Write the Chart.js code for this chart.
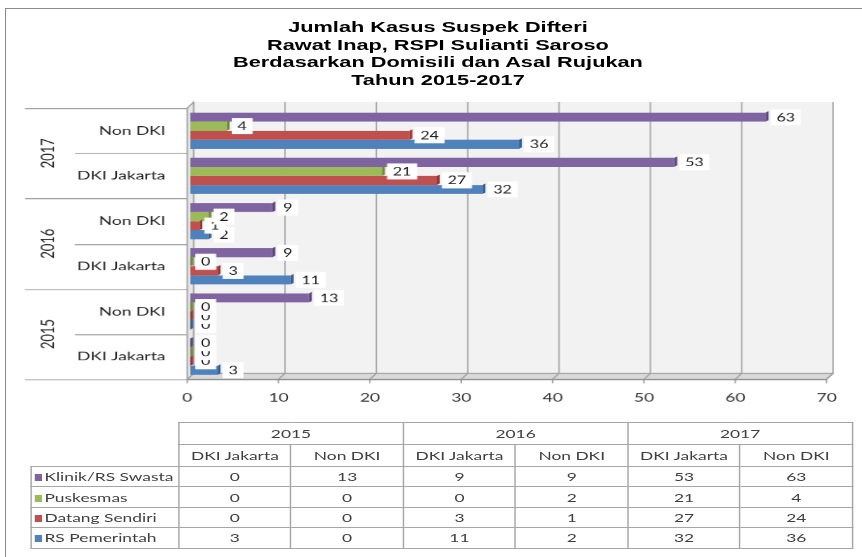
<!DOCTYPE html>
<html>
<head>
<meta charset="utf-8">
<script src="https://cdn.jsdelivr.net/npm/chart.js@4.4.1/dist/chart.umd.min.js"></script>
<style>
html,body{margin:0;padding:0;background:#fff;width:862px;height:557px;overflow:hidden;}
#frame{position:absolute;left:5px;top:8px;width:900px;height:600px;border:1px solid #8c8c8c;box-sizing:border-box;}
#wrap{position:absolute;left:0;top:0;width:595px;height:557px;transform:scaleX(1.448739);transform-origin:0 0;}
#title{position:absolute;left:0;top:18px;width:604.6px;text-align:center;font:bold 15px "Liberation Sans",Arial,sans-serif;line-height:17.6px;color:#000;}
#chart{position:absolute;left:0;top:0;}
#tbl{position:absolute;left:20.7px;top:422px;border-collapse:collapse;table-layout:fixed;font:12px Lato,sans-serif;color:#404040;}
#tbl td{border:1px solid #a6a6a6;text-align:center;padding:0;white-space:nowrap;overflow:hidden;}
#tbl td.corner{border:none;}
#tbl td.lab{text-align:left;padding-left:2px;}
#tbl .key{display:inline-block;width:5px;height:7px;margin-right:2px;vertical-align:0px;}
</style>
</head>
<body>
<div id="frame"></div>
<div id="wrap">
  <div id="title">Jumlah Kasus Suspek Difteri<br>Rawat Inap, RSPI Sulianti Saroso<br>Berdasarkan Domisili dan Asal Rujukan<br>Tahun 2015-2017</div>
  <canvas id="chart" width="595" height="415"></canvas>
  <table id="tbl"></table>
</div>
<script>
// ---- data ----
const years = ['2015', '2016', '2017'];
const regions = ['DKI Jakarta', 'Non DKI'];
// order: 2015 DKI, 2015 Non DKI, 2016 DKI, 2016 Non DKI, 2017 DKI, 2017 Non DKI
const klinikSwasta  = [0, 13, 9, 9, 53, 63];
const puskesmas     = [0, 0, 0, 2, 21, 4];
const datangSendiri = [0, 0, 3, 1, 27, 24];
const rsPemerintah  = [3, 0, 11, 2, 32, 36];
const seriesNames = ['Klinik/RS Swasta', 'Puskesmas', 'Datang Sendiri', 'RS Pemerintah'];
const xMin = 0, xMax = 70, xStep = 10;

// ---- styles ----
const seriesColors = ['#8064A2', '#9BBB59', '#C0504D', '#4F81BD'];
const capColors    = ['#5C4776', '#71893F', '#8E3A38', '#395E8B'];
const seriesValues = [klinikSwasta, puskesmas, datangSendiri, rsPemerintah];

const cats = [];
years.forEach(y => regions.forEach(r => cats.push({ year: y, region: r })));
const disp = cats.map((c, i) => i).reverse(); // top-down display order

const datasets = seriesNames.map((name, s) => ({
  label: name,
  data: disp.map(i => seriesValues[s][i]),
  backgroundColor: seriesColors[s],
  borderWidth: 0,
  categoryPercentage: 0.8,
  barPercentage: 1.0
}));

const OFF = -2.1, DX = 4.5, DY = 6;

const decor = {
  id: 'decor',
  beforeDatasetsDraw(chart) {
    const ctx = chart.ctx, xs = chart.scales.x, ca = chart.chartArea;
    const xf = v => xs.getPixelForValue(v) + OFF, xb = v => xf(v) + DX;
    const top = ca.top, bot = ca.bottom;
    const ticks = xs.ticks.map(t => t.value);
    ctx.save();
    // back wall
    ctx.fillStyle = '#f2f2f2';
    ctx.fillRect(xb(xMin), top - DY, xb(xMax) - xb(xMin), bot - top);
    ctx.strokeStyle = '#a6a6a6'; ctx.lineWidth = 1;
    ticks.forEach(v => {
      ctx.beginPath(); ctx.moveTo(xb(v), top - DY); ctx.lineTo(xb(v), bot - DY); ctx.stroke();
    });
    // floor
    ctx.beginPath();
    ctx.moveTo(xf(xMin), bot); ctx.lineTo(xf(xMax), bot);
    ctx.lineTo(xb(xMax), bot - DY); ctx.lineTo(xb(xMin), bot - DY); ctx.closePath();
    ctx.fillStyle = '#d9d9d9'; ctx.fill(); ctx.strokeStyle = '#a0a0a0'; ctx.stroke();
    ticks.forEach(v => {
      ctx.beginPath(); ctx.moveTo(xf(v), bot); ctx.lineTo(xb(v), bot - DY); ctx.stroke();
      ctx.beginPath(); ctx.moveTo(xf(v), bot); ctx.lineTo(xf(v), bot + 4); ctx.stroke();
    });
    ctx.beginPath(); ctx.moveTo(xf(xMin), bot + 0.5); ctx.lineTo(xf(xMax), bot + 0.5); ctx.strokeStyle = '#8c8c8c'; ctx.stroke();
    // left wall
    ctx.beginPath();
    ctx.moveTo(xf(xMin), top); ctx.lineTo(xb(xMin), top - DY);
    ctx.lineTo(xb(xMin), bot - DY); ctx.lineTo(xf(xMin), bot); ctx.closePath();
    ctx.fillStyle = '#e6e6e6'; ctx.fill(); ctx.strokeStyle = '#a0a0a0'; ctx.stroke();
    ctx.restore();
  },
  afterDatasetsDraw(chart) {
    const ctx = chart.ctx;
    ctx.save();
    // bar end caps
    chart.data.datasets.forEach((ds, d) => {
      chart.getDatasetMeta(d).data.forEach(el => {
        const h = el.height, t = el.y - h / 2, b = el.y + h / 2;
        ctx.beginPath();
        ctx.moveTo(el.x, t); ctx.lineTo(el.x + 2, t - 1.5);
        ctx.lineTo(el.x + 2, b - 1.5); ctx.lineTo(el.x, b); ctx.closePath();
        ctx.fillStyle = capColors[d]; ctx.fill();
      });
    });
    // data labels (drawn bottom series first)
    ctx.font = '11px Lato, sans-serif';
    ctx.textAlign = 'center'; ctx.textBaseline = 'middle';
    for (let d = chart.data.datasets.length - 1; d >= 0; d--) {
      const ds = chart.data.datasets[d];
      chart.getDatasetMeta(d).data.forEach((el, i) => {
        const txt = String(ds.data[i]);
        const w = ctx.measureText(txt).width + 8, h = 16;
        const x0 = el.x + 3.5;
        ctx.fillStyle = '#fff';
        ctx.fillRect(x0, el.y - h / 2, w, h);
        ctx.fillStyle = '#1a1a1a';
        ctx.fillText(txt, x0 + w / 2, el.y + 0.5);
      });
    }
    ctx.restore();
  },
  afterDraw(chart) {
    const ctx = chart.ctx, ys = chart.scales.y, xs = chart.scales.x;
    const xf0 = xs.getPixelForValue(xMin) + OFF;
    const half = (ys.getPixelForValue(1) - ys.getPixelForValue(0)) / 2;
    const n = disp.length;
    ctx.save();
    ctx.strokeStyle = '#a0a0a0'; ctx.lineWidth = 1;
    for (let k = 0; k <= n; k++) {
      const y = Math.round(ys.getPixelForValue(0) - half + k * 2 * half) + 0.5;
      const x0 = (k % regions.length === 0) ? 17.2 : 51.7;
      ctx.beginPath(); ctx.moveTo(x0, y); ctx.lineTo(xf0, y); ctx.stroke();
    }
    // year labels
    ctx.font = '13px Lato, sans-serif';
    ctx.fillStyle = '#262626';
    ctx.textAlign = 'center'; ctx.textBaseline = 'middle';
    for (let g = 0; g < years.length; g++) {
      const i0 = g * regions.length, i1 = i0 + regions.length - 1;
      const yc = (ys.getPixelForValue(i0) + ys.getPixelForValue(i1)) / 2;
      const yr = cats[disp[i0]].year;
      ctx.save(); ctx.translate(33.1, yc); ctx.rotate(-Math.PI / 2);
      ctx.fillText(yr, 0, 0); ctx.restore();
    }
    ctx.restore();
  }
};

Chart.defaults.font.family = 'Lato, sans-serif';
new Chart(document.getElementById('chart'), {
  type: 'bar',
  data: { labels: disp.map(i => cats[i].region), datasets },
  options: {
    indexAxis: 'y',
    responsive: false,
    animation: false,
    devicePixelRatio: 1.5,
    layout: { padding: { top: 108, right: 22.7, left: 0, bottom: 0 } },
    plugins: { legend: { display: false }, title: { display: false }, tooltip: { enabled: false } },
    scales: {
      x: {
        min: xMin, max: xMax,
        ticks: { stepSize: xStep, font: { size: 12 }, color: '#333', padding: 11, labelOffset: -2, maxRotation: 0 },
        grid: { display: false, drawTicks: false },
        border: { display: false },
        afterFit(s) { s.height = 36; }
      },
      y: {
        ticks: { font: { size: 12 }, color: '#262626', padding: 17 },
        grid: { display: false, drawTicks: false },
        border: { display: false },
        afterFit(s) { s.width = 131.2; }
      }
    }
  },
  plugins: [decor]
});

// ---- data table ----
const tbl = document.getElementById('tbl');
const colg = document.createElement('colgroup');
[102.2].concat(Array(years.length * regions.length).fill(77.5)).forEach(w => {
  const c = document.createElement('col'); c.style.width = w + 'px'; colg.appendChild(c);
});
tbl.appendChild(colg);
let tr = document.createElement('tr'); tr.style.height = '22px';
let td = document.createElement('td'); td.className = 'corner'; td.rowSpan = 2; tr.appendChild(td);
years.forEach(y => { const c = document.createElement('td'); c.colSpan = regions.length; c.textContent = y; tr.appendChild(c); });
tbl.appendChild(tr);
tr = document.createElement('tr'); tr.style.height = '22px';
years.forEach(() => regions.forEach(r => { const c = document.createElement('td'); c.textContent = r; tr.appendChild(c); }));
tbl.appendChild(tr);
seriesNames.forEach((name, s) => {
  const row = document.createElement('tr'); row.style.height = '20.4px';
  const l = document.createElement('td'); l.className = 'lab';
  const k = document.createElement('span'); k.className = 'key'; k.style.background = seriesColors[s];
  l.appendChild(k); l.appendChild(document.createTextNode(name)); row.appendChild(l);
  seriesValues[s].forEach(v => { const c = document.createElement('td'); c.textContent = v; row.appendChild(c); });
  tbl.appendChild(row);
});
</script>
</body>
</html>
